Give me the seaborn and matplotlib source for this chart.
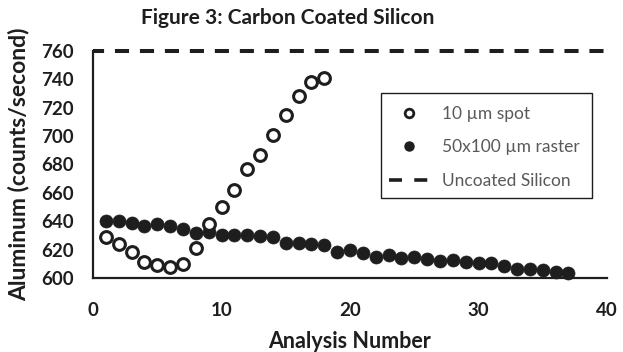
import matplotlib
matplotlib.use("Agg")
import matplotlib.pyplot as plt
import seaborn as sns
import pandas as pd
from matplotlib.lines import Line2D
from matplotlib.patches import Rectangle

# ---- data ----
spot_x = list(range(1, 19))
spot_y = [629, 624, 618, 611.5, 609, 608, 610, 621, 638, 650, 662, 676.5,
          687, 701, 715, 728, 738, 741]
raster_x = list(range(1, 38))
raster_y = [640, 640, 638.5, 637, 638, 637, 634.5, 631.5, 632.5, 630, 630, 630,
            629.5, 628.7, 625, 624.5, 624, 623, 618.5, 619.7, 617.8, 615, 616,
            614, 614.6, 613.2, 612, 612.7, 611.5, 610.8, 610.3, 608.5, 606.5,
            606.3, 605.6, 604.4, 603.3]
uncoated_x = [0, 40]
uncoated_y = [760, 760]
labels = ["10 \u00b5m spot", "50x100 \u00b5m raster", "Uncoated Silicon"]
x_ticks = [0, 10, 20, 30, 40]
y_ticks = [600, 620, 640, 660, 680, 700, 720, 740, 760]

sns.set_theme(style="white")
plt.rcParams["font.family"] = ["Lato", "DejaVu Sans"]

DARK = "#1e1e1e"
W, H = 623, 352
fig = plt.figure(figsize=(W / 100, H / 100), dpi=100)
ax = fig.add_axes([93 / W, 1 - 278 / H, (607 - 93) / W, (278 - 51) / H])

df_spot = pd.DataFrame({"x": spot_x, "y": spot_y})
df_raster = pd.DataFrame({"x": raster_x, "y": raster_y})
df_unc = pd.DataFrame({"x": uncoated_x, "y": uncoated_y})

sns.lineplot(data=df_unc, x="x", y="y", ax=ax, color=DARK, lw=2.9, zorder=1)
unc_line = ax.lines[-1]
unc_line.set_linestyle((0.75, (3.5, 2.7)))
unc_line.set_dash_capstyle("butt")
unc_line.set_clip_on(False)

sns.scatterplot(data=df_raster, x="x", y="y", ax=ax, s=88, color=DARK,
                edgecolor=DARK, linewidth=0.5, zorder=3, clip_on=False)
sns.scatterplot(data=df_spot, x="x", y="y", ax=ax, s=72, facecolor="white",
                edgecolor=DARK, linewidth=2.2, zorder=4, clip_on=False)

ax.set_xlim(0, 40)
ax.set_ylim(600, 760)
ax.set_xticks(x_ticks)
ax.set_yticks(y_ticks)
for s in ["top", "right"]:
    ax.spines[s].set_visible(False)
for s in ["left", "bottom"]:
    ax.spines[s].set_color(DARK)
    ax.spines[s].set_linewidth(1.6)
ax.tick_params(axis="both", direction="in", length=5, width=1.6,
               color=DARK, labelsize=13.5, labelcolor=DARK)
ax.tick_params(axis="y", pad=14)
ax.tick_params(axis="x", pad=17)
ax.set_xticklabels([str(t) for t in x_ticks], fontweight="bold")
ax.set_yticklabels([str(t) for t in y_ticks], fontweight="bold")

ax.set_xlabel("Analysis Number", fontsize=15.5, fontweight="bold", color=DARK)
ax.set_ylabel("Aluminum (counts/second)", fontsize=16.5, fontweight="bold",
              color=DARK)
ax.xaxis.set_label_coords(0.5, -0.232)
ax.yaxis.set_label_coords(-0.123, 0.5)

fig.text(288 / W, 1 - 18 / H, "Figure 3: Carbon Coated Silicon",
         ha="center", va="center", fontsize=15, fontweight="bold",
         color=DARK)

# legend frame drawn separately (figure pixel box 381-592 x 93-198)
fig.patches.append(Rectangle((381 / W, 1 - 198 / H), (592 - 381) / W,
                             (198 - 93) / H, transform=fig.transFigure,
                             fill=True, facecolor="white", edgecolor=DARK,
                             linewidth=1.0, zorder=5))

handles = [
    Line2D([], [], ls="none", marker="o", ms=6.2, mfc="white", mec=DARK, mew=2),
    Line2D([], [], ls="none", marker="o", ms=6.5, mfc=DARK, mec=DARK),
    Line2D([], [], color=DARK, lw=2.6, linestyle=(0, (3.6, 3.4)),
           dash_capstyle="butt"),
]
fs = 12.5
leg = fig.legend(handles, labels, loc="upper left",
                 bbox_to_anchor=(389 / W, 1 - 106 / H),
                 frameon=False, fontsize=fs, handlelength=2.25,
                 labelspacing=1.0, borderpad=0, handletextpad=0.8,
                 borderaxespad=0)
leg.set_zorder(6)
for t in leg.get_texts():
    t.set_color("#595959")

fig.savefig("out.png", dpi=100)
